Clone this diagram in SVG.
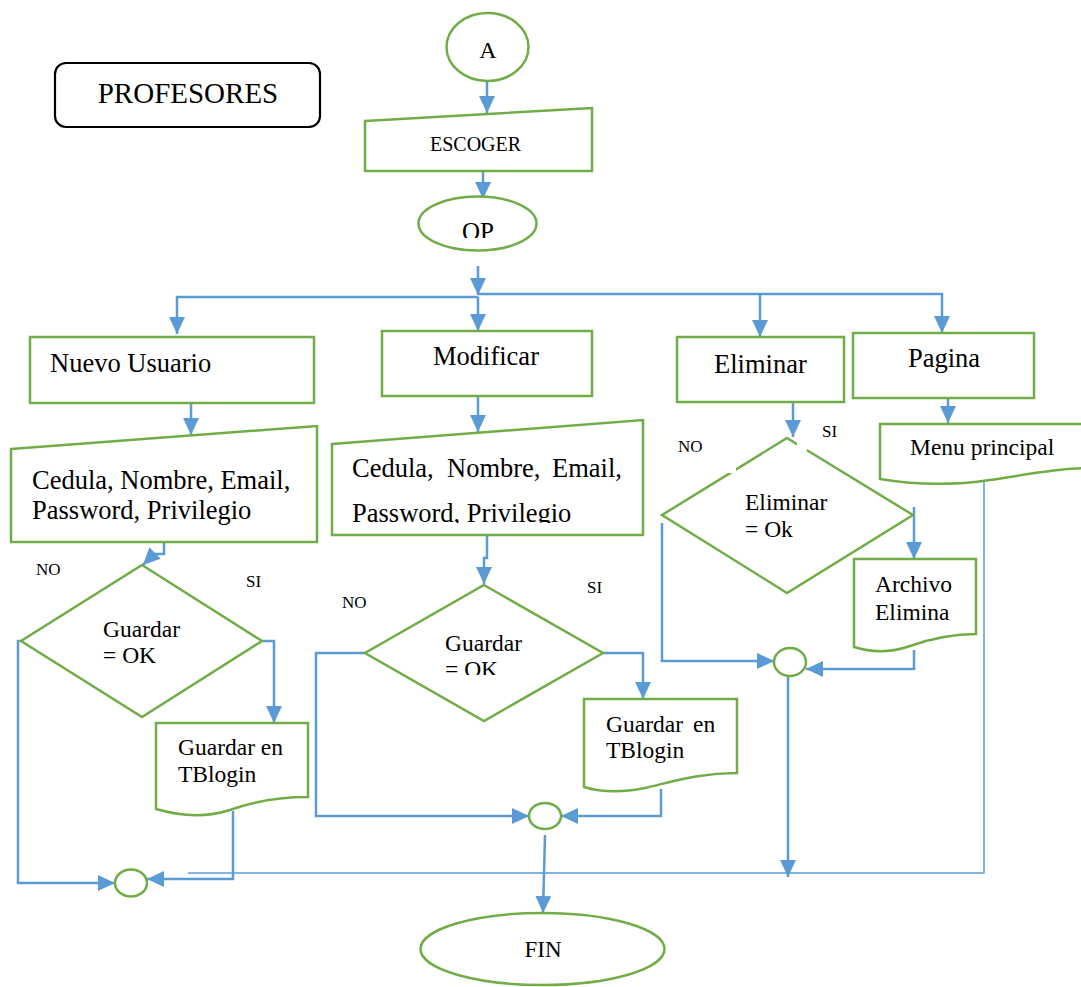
<svg xmlns="http://www.w3.org/2000/svg" width="1081" height="987" viewBox="0 0 1081 987">
  <style>
    .shape { fill: #ffffff; stroke: #70AD47; stroke-width: 2.5; }
    .title { fill: #ffffff; stroke: #000000; stroke-width: 2.2; }
    .link { fill: none; stroke: #5B9BD5; stroke-width: 2.5; }
    .thin { fill: none; stroke: #5B9BD5; stroke-width: 1.5; }
    .t { font-family: "Liberation Serif", "Times New Roman", serif; fill: #000000; }
    .big { font-size: 26.5px; }
    .mid { font-size: 23.5px; }
    .lab { font-size: 17px; }
  </style>
  <defs>
    <marker id="arrow" markerUnits="userSpaceOnUse" markerWidth="18" markerHeight="16" refX="17" refY="8" orient="auto">
      <path d="M0,0 L17,8 L0,16 Z" fill="#5B9BD5"/>
    </marker>
    <clipPath id="clipOp"><rect x="400" y="190" width="160" height="48"/></clipPath>
    <clipPath id="clipPriv"><rect x="330" y="490" width="320" height="33"/></clipPath>
    <clipPath id="clipOk"><rect x="400" y="620" width="160" height="55"/></clipPath>
  </defs>

  <!-- title -->
  <g id="title">
    <rect class="title" x="55" y="63" width="265" height="64" rx="11"/>
    <text class="t" x="188" y="103" font-size="29" text-anchor="middle">PROFESORES</text>
  </g>

  <!-- connectors -->
  <g id="connectors">
    <path class="link" d="M487,81 V113" marker-end="url(#arrow)"/>
    <path class="link" d="M483,165 V199" marker-end="url(#arrow)"/>
    <path class="link" d="M478,266 V295" marker-end="url(#arrow)"/>
    <path class="link" d="M478,297 H177 V334" marker-end="url(#arrow)"/>
    <path class="link" d="M478,297 V331" marker-end="url(#arrow)"/>
    <path class="link" d="M478,294 H942 V333" marker-end="url(#arrow)"/>
    <path class="link" d="M760,294 V337" marker-end="url(#arrow)"/>

    <!-- Nuevo Usuario branch -->
    <path class="link" d="M191,404 V435" marker-end="url(#arrow)"/>
    <path class="link" d="M164,542 V554 H154 L143,565" marker-end="url(#arrow)"/>
    <path class="link" d="M21,641 H18 V883 H115" marker-end="url(#arrow)"/>
    <path class="link" d="M262,641 H274 V723" marker-end="url(#arrow)"/>
    <path class="link" d="M233,811 V879 H147" marker-end="url(#arrow)"/>

    <!-- Modificar branch -->
    <path class="link" d="M478,396 V432" marker-end="url(#arrow)"/>
    <path class="link" d="M487,535 V558 H484 V584" marker-end="url(#arrow)"/>
    <path class="link" d="M365,653 H316 V816 H529" marker-end="url(#arrow)"/>
    <path class="link" d="M603,653 H643 V699" marker-end="url(#arrow)"/>
    <path class="link" d="M661,789 V816 H561" marker-end="url(#arrow)"/>
    <path class="link" d="M545,835 L543,913" marker-end="url(#arrow)"/>

    <!-- Eliminar branch -->
    <path class="link" d="M793,402 V437" marker-end="url(#arrow)"/>
    <path class="link" d="M662,523 V661 H774" marker-end="url(#arrow)"/>
    <path class="link" d="M914,507 V559" marker-end="url(#arrow)"/>
    <path class="link" d="M914,650 V669 H806" marker-end="url(#arrow)"/>
    <path class="link" d="M788,676 V877" marker-end="url(#arrow)"/>

    <!-- Pagina branch -->
    <path class="link" d="M948,388 V423" marker-end="url(#arrow)"/>
    <path class="thin" d="M984,481 V873 H188"/>
  </g>

  <!-- start -->
  <g id="start">
    <ellipse class="shape" cx="487.5" cy="47" rx="41" ry="34"/>
    <text class="t" x="488" y="58" font-size="24" text-anchor="middle">A</text>
  </g>

  <g id="escoger">
    <path class="shape" d="M365,121 L592,108 L592,171 L365,171 Z"/>
    <text class="t" x="430" y="151" font-size="20">ESCOGER</text>
  </g>

  <g id="op">
    <ellipse class="shape" cx="477.5" cy="223.5" rx="59" ry="27"/>
    <text class="t" x="462" y="240" font-size="25" clip-path="url(#clipOp)">OP</text>
  </g>

  <!-- Nuevo Usuario column -->
  <g id="nuevo-usuario">
    <rect class="shape" x="30" y="337" width="284" height="66"/>
    <text class="t big" x="50" y="372">Nuevo Usuario</text>
  </g>

  <g id="datos-nuevo">
    <path class="shape" d="M11,449 L317,426 L317,542 L11,542 Z"/>
    <text class="t big" x="32" y="489">Cedula, Nombre, Email,</text>
    <text class="t big" x="32" y="519">Password, Privilegio</text>
  </g>

  <g id="decision-nuevo">
    <path class="shape" d="M142,565 L262,641 L142,717 L21,641 Z"/>
    <text class="t mid" x="103" y="637">Guardar</text>
    <text class="t mid" x="103" y="663">= OK</text>
    <text class="t lab" x="36" y="575">NO</text>
    <text class="t lab" x="246" y="587">SI</text>
  </g>

  <g id="guardar-nuevo">
    <path class="shape" d="M156,723 H308 V797 C280,797 255,801 230,810 C205,818 180,816 156,809 Z"/>
    <text class="t mid" x="178" y="755">Guardar en</text>
    <text class="t mid" x="178" y="782">TBlogin</text>
  </g>

  <g id="union-nuevo">
    <ellipse class="shape" cx="131" cy="883" rx="16" ry="13.5"/>
  </g>

  <!-- Modificar column -->
  <g id="modificar">
    <rect class="shape" x="382" y="331" width="210" height="65"/>
    <text class="t big" x="433" y="365">Modificar</text>
  </g>

  <g id="datos-modificar">
    <path class="shape" d="M332,444 L643,420 L643,535 L332,535 Z"/>
    <text class="t big" y="477"><tspan x="352">Cedula,</tspan><tspan x="447">Nombre,</tspan><tspan x="552">Email,</tspan></text>
    <text class="t big" x="352" y="522" clip-path="url(#clipPriv)">Password, Privilegio</text>
  </g>

  <g id="decision-modificar">
    <path class="shape" d="M484,585 L603,653 L484,721 L365,653 Z"/>
    <text class="t mid" x="445" y="651">Guardar</text>
    <text class="t mid" x="445" y="677" clip-path="url(#clipOk)">= OK</text>
    <text class="t lab" x="342" y="608">NO</text>
    <text class="t lab" x="587" y="593">SI</text>
  </g>

  <g id="guardar-modificar">
    <path class="shape" d="M584,699 H737 V773 C700,773 675,781 645,788 C620,793 600,792 584,787 Z"/>
    <text class="t mid" y="732"><tspan x="606">Guardar</tspan><tspan x="693">en</tspan></text>
    <text class="t mid" x="606" y="758">TBlogin</text>
  </g>

  <g id="union-modificar">
    <ellipse class="shape" cx="545" cy="816" rx="16" ry="13"/>
  </g>

  <!-- Eliminar column -->
  <g id="eliminar">
    <rect class="shape" x="677" y="337" width="167" height="65"/>
    <text class="t big" x="714" y="373">Eliminar</text>
  </g>

  <g id="decision-eliminar">
    <path class="shape" d="M787,438 L913,515 L787,593 L662,515 Z"/>
    <rect x="726" y="465" width="10" height="8" fill="#ffffff"/>
    <rect x="797" y="442" width="10" height="9" fill="#ffffff"/>
    <text class="t mid" x="745" y="510">Eliminar</text>
    <text class="t mid" x="745" y="537">= Ok</text>
    <text class="t lab" x="678" y="452">NO</text>
    <text class="t lab" x="822" y="437">SI</text>
  </g>

  <g id="archivo-elimina">
    <path class="shape" d="M854,559 H976 V634 C950,634 930,639 910,646 C890,653 870,652 854,647 Z"/>
    <text class="t mid" x="875" y="592">Archivo</text>
    <text class="t mid" x="875" y="620">Elimina</text>
  </g>

  <g id="union-eliminar">
    <ellipse class="shape" cx="790" cy="662" rx="16" ry="14"/>
  </g>

  <!-- Pagina column -->
  <g id="pagina">
    <rect class="shape" x="853" y="333" width="181" height="65"/>
    <text class="t big" x="908" y="367">Pagina</text>
  </g>

  <g id="menu-principal">
    <path class="shape" d="M880,424 H1095 V468 C1060,468 1030,474 990,480 C950,486 910,484 880,479 Z"/>
    <text class="t mid" x="910" y="455">Menu principal</text>
  </g>

  <!-- end -->
  <g id="fin">
    <ellipse class="shape" cx="542.5" cy="949" rx="122" ry="36"/>
    <text class="t" x="543" y="957" font-size="23" text-anchor="middle">FIN</text>
  </g>
</svg>
